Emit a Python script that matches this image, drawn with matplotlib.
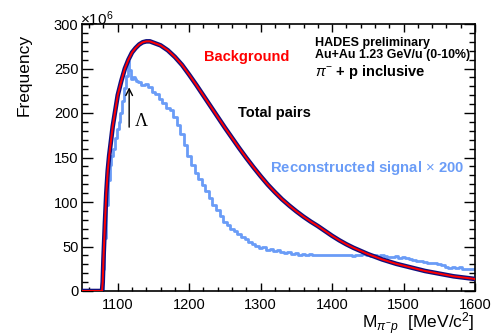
import numpy as np
import matplotlib
matplotlib.use("Agg")
import matplotlib.pyplot as plt
from matplotlib.ticker import MultipleLocator

plt.rcParams['font.family'] = ['Liberation Sans', 'DejaVu Sans']
plt.rcParams['mathtext.fontset'] = 'custom'
plt.rcParams['mathtext.rm'] = 'Liberation Sans'
plt.rcParams['mathtext.it'] = 'Liberation Sans:italic'
plt.rcParams['mathtext.bf'] = 'Liberation Sans:bold'

# Total pairs (= background), in 10^6
total_x = [1050, 1078, 1079, 1080, 1082, 1084, 1086, 1088, 1090, 1093, 1096,
           1100, 1105, 1110, 1115, 1120, 1125, 1130, 1135, 1140, 1145, 1150,
           1160, 1170, 1180, 1190, 1200, 1210, 1220, 1230, 1240, 1250, 1260,
           1270, 1280, 1290, 1300, 1310, 1320, 1330, 1340, 1350, 1360, 1370,
           1380, 1390, 1400, 1410, 1420, 1430, 1440, 1450, 1460, 1470, 1480,
           1490, 1500, 1510, 1520, 1530, 1540, 1550, 1560, 1570, 1580, 1590,
           1600]
total_y = [0, 0, 10, 35, 75, 110, 135, 152, 165, 185, 200,
           220, 236, 250, 260, 268, 273, 277, 279.5, 280.5, 280.5, 279,
           276, 270.5, 263, 254, 243, 231.5, 219.5, 207.5, 195.5, 183.5, 172,
           160.5, 149.5, 139, 129, 119.5, 111, 103, 96, 89.5, 83.5, 78,
           73, 67.5, 62, 57, 52.5, 48.5, 45, 41.5, 38.5, 35.5, 33,
           30.5, 28.5, 26.5, 24.5, 22.5, 21, 19.5, 18, 16.5, 15.5, 14.5,
           13.5]

# Reconstructed signal x 200, in 10^6
sig_x = [1050, 1070, 1077.5, 1080, 1082.5, 1085, 1087.5, 1090, 1092.5, 1095,
         1097.5, 1100, 1102.5, 1105, 1107.5, 1110, 1112.5, 1115, 1117.5, 1120,
         1122.5, 1125, 1127.5, 1130, 1135, 1140, 1145, 1150, 1155, 1160,
         1165, 1170, 1175, 1180, 1185, 1190, 1195, 1200, 1205, 1210,
         1215, 1220, 1225, 1230, 1235, 1240, 1245, 1250, 1255, 1260,
         1265, 1270, 1275, 1280, 1285, 1290, 1295, 1300, 1305, 1310,
         1315, 1320, 1325, 1330, 1335, 1340, 1345, 1350, 1355, 1360,
         1365, 1370, 1375, 1380, 1385, 1390, 1395, 1400, 1405, 1410,
         1415, 1420, 1425, 1430, 1435, 1440, 1445, 1450, 1455, 1460,
         1465, 1470, 1475, 1480, 1485, 1490, 1495, 1500, 1505, 1510,
         1515, 1520, 1525, 1530, 1535, 1540, 1545, 1550, 1555, 1560,
         1565, 1570, 1575, 1580, 1585, 1590, 1595, 1600]
sig_y = [0, 0, 0, 25, 60, 97, 125, 142, 152, 160,
         172, 182, 190, 200, 214, 228, 242, 258, 248, 238,
         241, 238, 236, 235, 232, 233, 229, 224, 221, 216,
         211, 206, 203, 196, 186, 176, 164, 152, 142, 133,
         126, 119, 112, 104, 97, 91, 84, 78, 74, 70,
         67, 64, 61, 58, 55, 53, 51, 48, 49, 46,
         47, 45, 46, 44, 43, 44, 42, 43, 41, 42,
         41, 42, 40, 41, 40, 41, 40, 41, 40, 41,
         40, 40, 41, 39, 40, 41, 42, 41, 39, 40,
         38, 40, 39, 38, 38, 39, 37, 38, 37, 36,
         35, 34, 34, 33, 32, 31, 31, 30, 29, 27,
         26, 27, 26, 27, 25, 25, 25, 25]

fig = plt.figure(figsize=(4.92, 3.36), dpi=100)
ax = fig.add_axes([82 / 492, 1 - 291 / 336, 393 / 492, 267 / 336])

ax.plot(sig_x, sig_y, drawstyle='steps-mid', color='#6a9cf7', lw=2.0, zorder=2)
ax.plot(total_x, total_y, color='#10107e', lw=3.3, zorder=3)
ax.plot(total_x, total_y, color='#ff0000', lw=1.4, zorder=4)

ax.set_xlim(1050, 1600)
ax.set_ylim(0, 300)

ax.xaxis.set_major_locator(MultipleLocator(100))
ax.xaxis.set_minor_locator(MultipleLocator(20))
ax.yaxis.set_major_locator(MultipleLocator(50))
ax.yaxis.set_minor_locator(MultipleLocator(10))
ax.tick_params(axis='both', which='both', direction='in', top=True, right=True,
               width=1.0, labelsize=10.5)
ax.tick_params(axis='x', which='major', length=5.5, pad=5)
ax.tick_params(axis='x', which='minor', length=3)
ax.tick_params(axis='y', which='major', length=8, pad=2.5)
ax.tick_params(axis='y', which='minor', length=4)
for sp in ax.spines.values():
    sp.set_linewidth(1.2)

fig.text(80 / 492, 1 - 25 / 336, r'$\times$10$^{6}$', fontsize=11,
         ha='left', va='baseline')
fig.text(24 / 492, 1 - 75 / 336, 'Frequency', rotation=90, fontsize=12.5,
         ha='center', va='center')
fig.text(475 / 492, 1 - 329 / 336, r'M$_{\pi^{-}p}$  [MeV/c$^{2}$]',
         fontsize=12.5, ha='right', va='baseline')

ax.text(1221, 263, 'Background', color='#ff0000', fontsize=10.5,
        fontweight='bold', ha='left', va='center')
ax.text(1376, 279, 'HADES preliminary', fontsize=9, fontweight='bold',
        ha='left', va='center')
ax.text(1376, 265, 'Au+Au 1.23 GeV/u (0-10%)', fontsize=8.9,
        fontweight='bold', ha='left', va='center')
ax.text(1376, 246.5, r'$\pi^{-}$ + p inclusive', fontsize=10.5,
        fontweight='bold', ha='left', va='center')
ax.text(1268, 199.5, 'Total pairs', fontsize=10.5, fontweight='bold',
        ha='left', va='center')
ax.text(1313, 138, r'Reconstructed signal $\times$ 200', color='#6a9cf7',
        fontsize=10.7, fontweight='bold', ha='left', va='center')

ax.annotate('', xy=(1116, 232), xytext=(1116, 181),
            arrowprops=dict(arrowstyle='->', color='black', lw=1.0,
                            mutation_scale=12))
ax.text(1132.5, 190, 'Λ', fontsize=13, family='Liberation Serif',
        ha='center', va='center')

fig.savefig('out.png', dpi=100)
